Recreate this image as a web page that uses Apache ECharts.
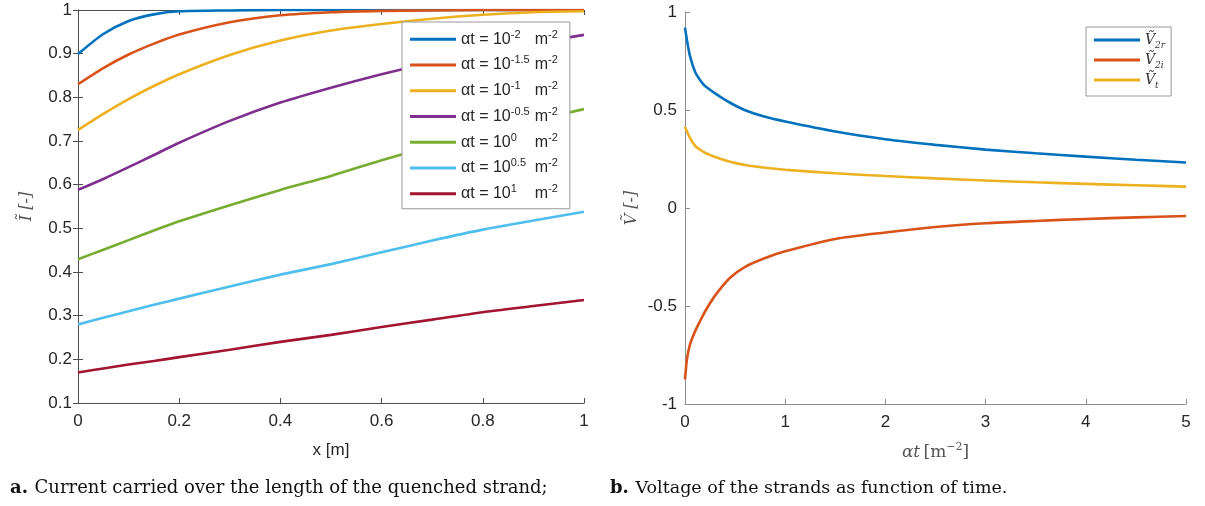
<!DOCTYPE html>
<html>
<head>
<meta charset="utf-8">
<script src="https://cdn.jsdelivr.net/npm/echarts@6/dist/echarts.min.js"></script>
<style>
  html, body { margin: 0; padding: 0; background: #fff; }
  #chart { width: 1205px; height: 506px; }
</style>
</head>
<body>
<div id="chart"></div>
<script>
// --- left panel: current along the strand ---
const xPos = [0, 0.05, 0.1, 0.15, 0.2, 0.3, 0.4, 0.5, 0.6, 0.7, 0.8, 0.9, 1.0];
const expLabels = ['-2', '-1.5', '-1', '-0.5', '0', '0.5', '1'];
const curM2 = [0.899, 0.945, 0.975, 0.990, 0.997, 0.999, 1, 1, 1, 1, 1, 1, 1];
const curM15 = [0.830, 0.867, 0.898, 0.923, 0.944, 0.972, 0.988, 0.995, 0.998, 0.999, 1, 1, 1];
const curM1 = [0.725, 0.762, 0.796, 0.826, 0.853, 0.897, 0.930, 0.953, 0.968, 0.980, 0.989, 0.995, 0.997];
const curM05 = [0.588, 0.613, 0.640, 0.668, 0.696, 0.746, 0.788, 0.822, 0.853, 0.880, 0.904, 0.925, 0.943];
const cur0 = [0.429, 0.451, 0.473, 0.495, 0.516, 0.553, 0.588, 0.620, 0.656, 0.689, 0.719, 0.747, 0.773];
const cur05 = [0.280, 0.295, 0.310, 0.325, 0.339, 0.367, 0.394, 0.418, 0.445, 0.472, 0.497, 0.518, 0.538];
const cur1 = [0.170, 0.179, 0.188, 0.196, 0.205, 0.222, 0.240, 0.256, 0.274, 0.291, 0.308, 0.322, 0.336];

// --- right panel: voltage vs time ---
const tPos = [0, 0.02, 0.05, 0.1, 0.15, 0.2, 0.3, 0.45, 0.6, 0.8, 1, 1.5, 2, 2.5, 3, 3.5, 4, 4.5, 5];
const v2r = [0.92, 0.855, 0.775, 0.695, 0.653, 0.622, 0.585, 0.537, 0.499, 0.465, 0.441, 0.390, 0.351, 0.322, 0.298, 0.279, 0.262, 0.246, 0.232];
const v2i = [-0.875, -0.77, -0.696, -0.63, -0.578, -0.528, -0.447, -0.356, -0.300, -0.255, -0.221, -0.158, -0.125, -0.097, -0.078, -0.066, -0.056, -0.048, -0.041];
const vt = [0.415, 0.39, 0.357, 0.318, 0.297, 0.282, 0.260, 0.236, 0.219, 0.205, 0.195, 0.177, 0.163, 0.151, 0.140, 0.131, 0.123, 0.116, 0.109];
const vNames = ['V2r', 'V2i', 'Vt'];
const vSubs = ['2r', '2i', 't'];

const leftColors = ['#0072BD', '#D95319', '#EDB120', '#7E2F8E', '#77AC30', '#4DBEEE', '#A2142F'];
const rightColors = ['#0072BD', '#D95319', '#EDB120'];

const sans = '"Liberation Sans", Arial, sans-serif';
const serif = '"DejaVu Serif", "Liberation Serif", serif';
const labelColor = '#262626';

const pair = (xs, ys) => xs.map((x, i) => [x, ys[i]]);

const curves = [curM2, curM15, curM1, curM05, cur0, cur05, cur1];
const volts = [v2r, v2i, vt];

const leftSeries = curves.map((c, i) => ({
  name: expLabels[i],
  type: 'line',
  xAxisIndex: 0,
  yAxisIndex: 0,
  data: pair(xPos, c),
  showSymbol: false,
  smooth: 0.25,
  lineStyle: { width: 2.6, color: leftColors[i] },
  itemStyle: { color: leftColors[i] },
  z: 3
}));

const rightSeries = volts.map((v, i) => ({
  name: vNames[i],
  type: 'line',
  xAxisIndex: 2,
  yAxisIndex: 2,
  data: pair(tPos, v),
  showSymbol: false,
  smooth: 0.25,
  lineStyle: { width: 2.6, color: rightColors[i] },
  itemStyle: { color: rightColors[i] }
}));

const leftAxisColor = '#4d4d4d';
const rightAxisColor = '#8c8c8c';

const chart = echarts.init(document.getElementById('chart'));
chart.setOption({
  animation: false,
  grid: [
    { left: 78, top: 10, width: 506, height: 393 },
    { left: 685, top: 12, width: 501, height: 392 }
  ],
  xAxis: [
    {
      gridIndex: 0, type: 'value', min: 0, max: 1, interval: 0.2,
      name: 'x [m]', nameLocation: 'middle', nameGap: 39,
      nameTextStyle: { fontFamily: sans, fontSize: 17, color: labelColor },
      axisLine: { lineStyle: { color: leftAxisColor } },
      axisTick: { inside: true, length: 5, lineStyle: { color: leftAxisColor } },
      axisLabel: { fontFamily: sans, fontSize: 17, color: labelColor, margin: 10 },
      splitLine: { show: false }
    },
    {
      gridIndex: 0, type: 'value', min: 0, max: 1, interval: 0.2, position: 'top',
      axisLine: { show: true, lineStyle: { color: leftAxisColor } },
      axisTick: { inside: true, length: 5, lineStyle: { color: leftAxisColor } },
      axisLabel: { show: false }, splitLine: { show: false }
    },
    {
      gridIndex: 1, type: 'value', min: 0, max: 5, interval: 1,
      name: '{a|αt} {b|[m}{s|−2}{b|]}', nameLocation: 'middle', nameGap: 38,
      nameTextStyle: {
        color: labelColor,
        rich: {
          a: { fontFamily: serif, fontStyle: 'italic', fontSize: 17, color: '#555', lineHeight: 22 },
          b: { fontFamily: serif, fontSize: 17, color: '#555', lineHeight: 22 },
          s: { fontFamily: serif, fontSize: 11, color: '#555', verticalAlign: 'top', lineHeight: 12 }
        }
      },
      axisLine: { onZero: false, lineStyle: { color: rightAxisColor } },
      axisTick: { inside: true, length: 5, lineStyle: { color: rightAxisColor } },
      axisLabel: { fontFamily: sans, fontSize: 17, color: labelColor, margin: 10 },
      splitLine: { show: false }
    }
  ],
  yAxis: [
    {
      gridIndex: 0, type: 'value', min: 0.1, max: 1, interval: 0.1,
      name: 'Ĩ [-]', nameLocation: 'middle', nameGap: 43,
      nameTextStyle: { fontFamily: serif, fontStyle: 'italic', fontSize: 16, color: '#555' },
      axisLine: { show: true, lineStyle: { color: leftAxisColor } },
      axisTick: { show: true, inside: true, length: 5, lineStyle: { color: leftAxisColor } },
      axisLabel: { fontFamily: sans, fontSize: 17, color: labelColor, margin: 6 },
      splitLine: { show: false }
    },
    {
      gridIndex: 0, type: 'value', min: 0.1, max: 1, interval: 0.1, position: 'right',
      axisLine: { show: true, lineStyle: { color: leftAxisColor } },
      axisTick: { show: true, inside: true, length: 5, lineStyle: { color: leftAxisColor } },
      axisLabel: { show: false }, splitLine: { show: false }
    },
    {
      gridIndex: 1, type: 'value', min: -1, max: 1, interval: 0.5,
      name: 'Ṽ [-]', nameLocation: 'middle', nameGap: 45,
      nameTextStyle: { fontFamily: serif, fontStyle: 'italic', fontSize: 16, color: '#555' },
      axisLine: { show: true, onZero: false, lineStyle: { color: rightAxisColor } },
      axisTick: { show: true, inside: true, length: 5, lineStyle: { color: rightAxisColor } },
      axisLabel: { fontFamily: sans, fontSize: 17, color: labelColor, margin: 8 },
      splitLine: { show: false }
    }
  ],
  legend: [
    {
      data: expLabels,
      orient: 'vertical',
      left: 402, top: 22,
      padding: [7, 12, 7, 8],
      itemGap: 7.5,
      itemWidth: 46, itemHeight: 3,
      icon: 'rect',
      backgroundColor: '#fff',
      borderColor: '#999', borderWidth: 1, borderRadius: 0,
      formatter: name => '{a|αt = 10}{e|' + name + '}{m|m}{e2|-2}',
      textStyle: {
        rich: {
          a: { fontFamily: sans, fontSize: 16, color: labelColor, lineHeight: 20.5 },
          e: { fontFamily: sans, fontSize: 11, color: labelColor, verticalAlign: 'top', lineHeight: 11, width: 24 },
          m: { fontFamily: sans, fontSize: 16, color: labelColor, lineHeight: 20.5 },
          e2: { fontFamily: sans, fontSize: 11, color: labelColor, verticalAlign: 'top', lineHeight: 11 }
        }
      },
      z: 10
    },
    {
      data: vNames,
      orient: 'vertical',
      left: 1086, top: 27,
      padding: [6, 6, 6, 8],
      itemGap: 3,
      itemWidth: 46, itemHeight: 3,
      icon: 'rect',
      backgroundColor: '#fff',
      borderColor: '#999', borderWidth: 1, borderRadius: 0,
      formatter: name => '{v|Ṽ}{s|' + vSubs[vNames.indexOf(name)] + '}',
      textStyle: {
        rich: {
          v: { fontFamily: serif, fontStyle: 'italic', fontSize: 14, color: '#333', lineHeight: 20 },
          s: { fontFamily: serif, fontStyle: 'italic', fontSize: 9, color: '#333', verticalAlign: 'bottom', lineHeight: 10 }
        }
      },
      z: 10
    }
  ],
  series: leftSeries.concat(rightSeries),
  graphic: [
    {
      type: 'text', left: 10, top: 479,
      style: {
        text: '{b|a.}  {n|Current carried over the length of the quenched strand;}',
        rich: {
          b: { fontFamily: serif, fontWeight: 'bold', fontSize: 18, fill: '#111' },
          n: { fontFamily: serif, fontSize: 18, fill: '#111' }
        }
      }
    },
    {
      type: 'text', left: 610, top: 479,
      style: {
        text: '{b|b.}  {n|Voltage of the strands as function of time.}',
        rich: {
          b: { fontFamily: serif, fontWeight: 'bold', fontSize: 18, fill: '#111' },
          n: { fontFamily: serif, fontSize: 17.5, fill: '#111' }
        }
      }
    }
  ]
});
</script>
</body>
</html>
